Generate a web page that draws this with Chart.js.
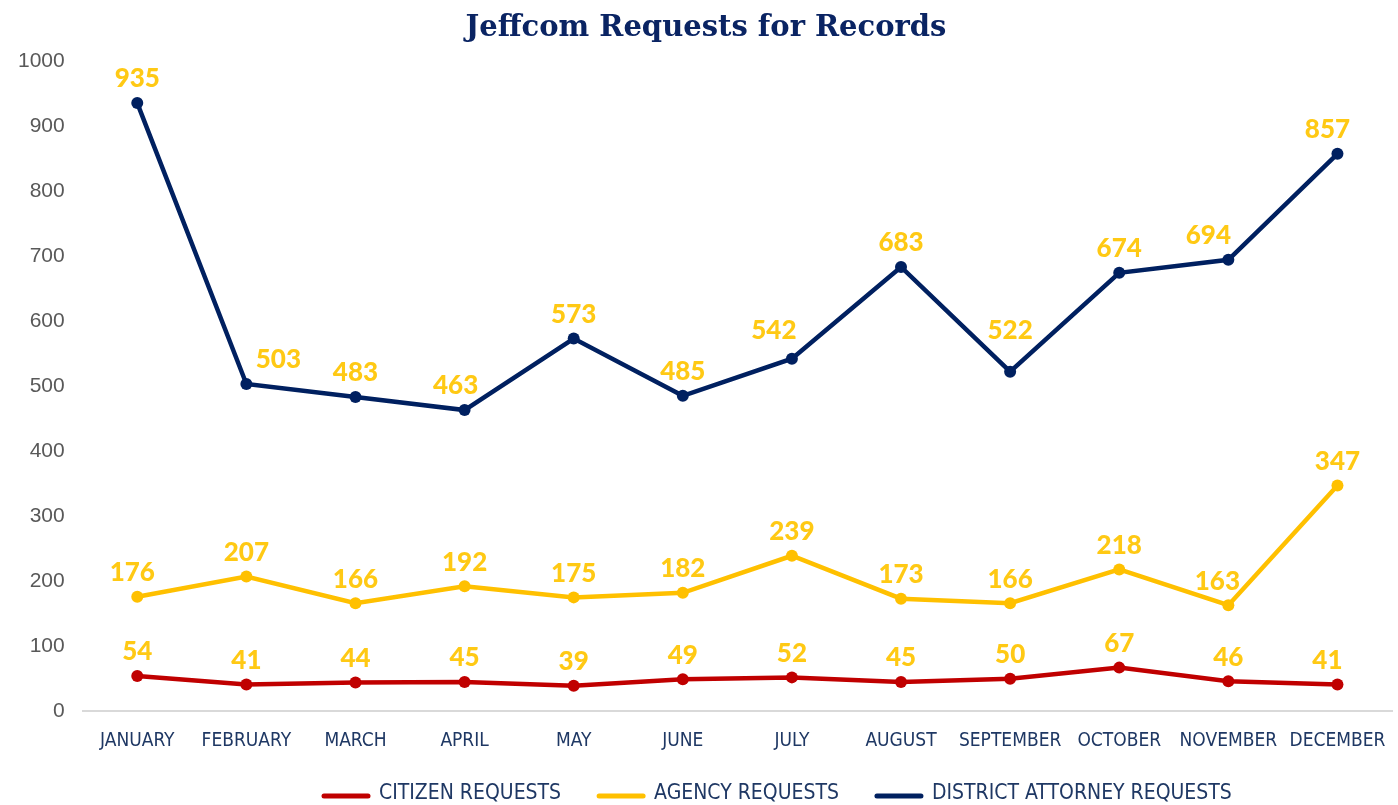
<!DOCTYPE html>
<html>
<head>
<meta charset="utf-8">
<script src="https://cdn.jsdelivr.net/npm/chart.js@4"></script>
<style>
html,body{margin:0;padding:0;background:#fff;}
#wrap{width:1398px;height:805px;position:relative;}
</style>
</head>
<body>
<div id="wrap"><canvas id="c" width="1398" height="805"></canvas></div>
<script>
const months = ["JANUARY","FEBRUARY","MARCH","APRIL","MAY","JUNE","JULY","AUGUST","SEPTEMBER","OCTOBER","NOVEMBER","DECEMBER"];
const citizenRequests = [54,41,44,45,39,49,52,45,50,67,46,41];
const agencyRequests = [176,207,166,192,175,182,239,173,166,218,163,347];
const daRequests = [935,503,483,463,573,485,542,683,522,674,694,857];
const yTicks = [0,100,200,300,400,500,600,700,800,900,1000];

// small nudges of the value labels (px), per series
const citizenLabelDx = [0,0,0,0,0,0,0,0,0,0,0,-10];
const agencyLabelDx = [-5,0,0,0,0,0,0,0,0,0,-11,0];
const daLabelDx = [0,32,0,-9,0,0,-18,0,0,0,-20,-10];
const labelDx = [citizenLabelDx, agencyLabelDx, daLabelDx];
const daLabelDy = [0,0,0,0,0,0,-4,0,-17,0,0,0];
const labelDy = [null, null, daLabelDy];

const labelPlugin = {
  id: 'valueLabels',
  afterDatasetsDraw(chart) {
    const ctx = chart.ctx;
    ctx.save();
    ctx.fillStyle = '#FFC914';
    ctx.font = '900 26px Lato, "Open Sans", sans-serif';
    ctx.textAlign = 'center';
    ctx.textBaseline = 'middle';
    chart.data.datasets.forEach((ds, i) => {
      const meta = chart.getDatasetMeta(i);
      meta.data.forEach((pt, j) => {
        const dy = labelDy[i] ? labelDy[i][j] : 0;
        ctx.fillText(String(ds.data[j]), pt.x + labelDx[i][j], pt.y - 24 + dy);
      });
    });
    ctx.restore();
  }
};

const legendPlugin = {
  id: 'customLegend',
  afterDraw(chart) {
    const ctx = chart.ctx;
    ctx.save();
    ctx.font = '21px "Liberation Sans Narrow", "DejaVu Sans Condensed", sans-serif';
    ctx.textBaseline = 'middle';
    ctx.textAlign = 'left';
    let x = 322;
    const y = 794;
    chart.data.datasets.forEach(ds => {
      ctx.strokeStyle = ds.borderColor;
      ctx.lineWidth = 5;
      ctx.lineCap = 'round';
      ctx.beginPath();
      ctx.moveTo(x + 2, y + 2);
      ctx.lineTo(x + 46, y + 2);
      ctx.stroke();
      x += 57;
      ctx.fillStyle = '#1F3864';
      ctx.fillText(ds.label, x, y);
      x += ctx.measureText(ds.label).width + 36;
    });
    ctx.restore();
  }
};

new Chart(document.getElementById('c'), {
  type: 'line',
  data: {
    labels: months,
    datasets: [
      {label: 'CITIZEN REQUESTS', data: citizenRequests, borderColor: '#C00000', backgroundColor: '#C00000', borderWidth: 4.5, pointRadius: 6, pointBackgroundColor: '#C00000', pointBorderWidth: 0, tension: 0},
      {label: 'AGENCY REQUESTS', data: agencyRequests, borderColor: '#FFC000', backgroundColor: '#FFC000', borderWidth: 4.5, pointRadius: 6, pointBackgroundColor: '#FFC000', pointBorderWidth: 0, tension: 0},
      {label: 'DISTRICT ATTORNEY REQUESTS', data: daRequests, borderColor: '#002060', backgroundColor: '#002060', borderWidth: 4.5, pointRadius: 6, pointBackgroundColor: '#002060', pointBorderWidth: 0, tension: 0}
    ]
  },
  options: {
    responsive: false,
    animation: false,
    devicePixelRatio: 1,
    layout: {padding: {left: 0, right: -14, top: 2, bottom: 35}},
    plugins: {
      title: {
        display: true,
        text: 'Jeffcom Requests for Records',
        color: '#0A2463',
        font: {family: '"DejaVu Serif", serif', size: 29, weight: 'bold'},
        padding: {top: 9, bottom: 15}
      },
      legend: {display: false},
      tooltip: {enabled: false}
    },
    scales: {
      x: {
        offset: true,
        afterFit(scale) { scale.paddingRight = 0; scale.paddingLeft = 0; },
        grid: {display: false, drawTicks: false},
        border: {display: true, color: '#D9D9D9', width: 2},
        ticks: {
          color: '#1F3864',
          padding: 18,
          maxRotation: 0,
          autoSkip: false,
          font: {family: '"Liberation Sans Narrow", "DejaVu Sans Condensed", sans-serif', size: 19}
        }
      },
      y: {
        min: 0,
        max: 1000,
        afterBuildTicks(axis) { axis.ticks = yTicks.map(v => ({value: v})); },
        grid: {display: false, drawTicks: false},
        border: {display: false},
        ticks: {
          color: '#595959',
          padding: 18,
          callback: v => String(v),
          font: {family: '"Liberation Sans", Arial, sans-serif', size: 21}
        }
      }
    }
  },
  plugins: [labelPlugin, legendPlugin]
});
</script>
</body>
</html>
